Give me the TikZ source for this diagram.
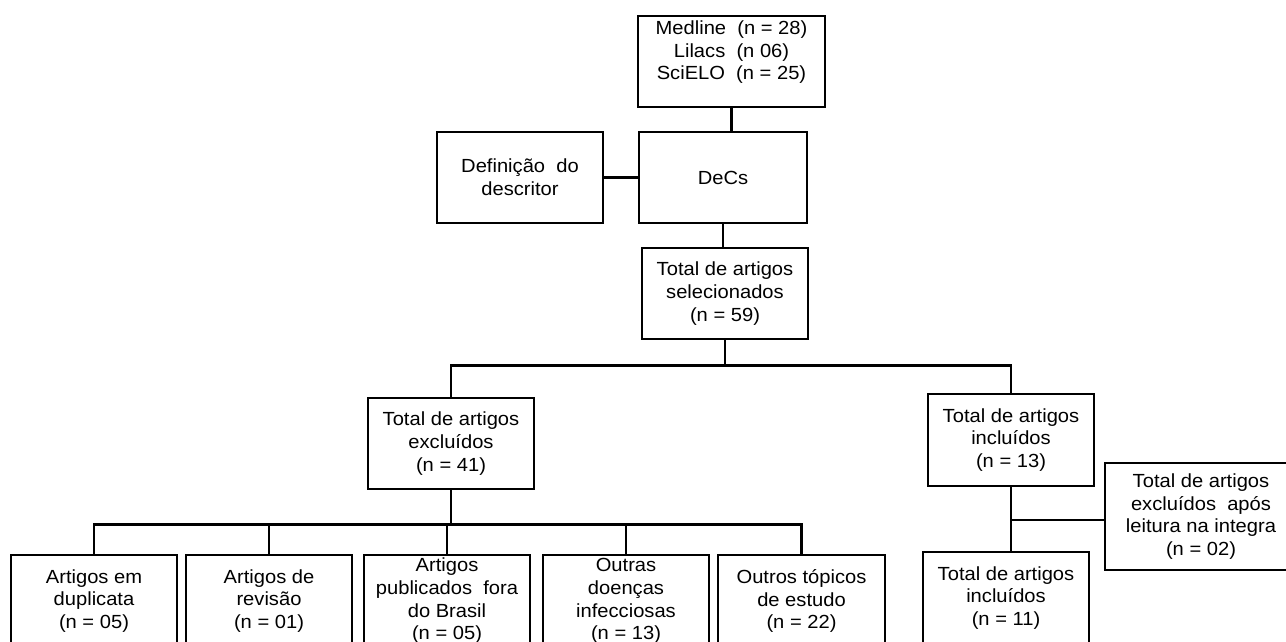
\documentclass[tikz,border=0pt]{standalone}
\usepackage{fontspec}
\setmainfont[FakeStretch=1.06]{Liberation Sans}
\begin{document}
\begin{tikzpicture}[x=1pt,y=-1pt,
  box/.style={draw=black, line width=2.8pt, inner sep=0pt, align=center,
    font=\fontsize{19}{22.7}\selectfont},
  conn/.style={draw=black, line width=2.8pt}]
\useasboundingbox (0,0) rectangle (1286,642);
\fill[white] (0,0) rectangle (1286,642);
\clip (0,0) rectangle (1286,642);
% top part
\node[box, minimum width=187pt, minimum height=91pt] (src) at (731.5,61.5)
  {Medline\ \ (n = 28)\\Lilacs\ \ (n 06)\\SciELO\ \ (n = 25)\\\mbox{}};
\node[box, minimum width=166pt, minimum height=91pt] (def) at (520,177.5)
  {Definição\ \ do\\descritor};
\node[box, minimum width=168pt, minimum height=91pt] (decs) at (723,177.5) {DeCs};
\node[box, minimum width=166pt, minimum height=91pt] (sel) at (725,293.5)
  {Total de artigos\\selecionados\\(n = 59)};
% middle
\node[box, minimum width=166pt, minimum height=91pt] (exc) at (451,443.5)
  {Total de artigos\\excluídos\\(n = 41)};
\node[box, minimum width=166pt, minimum height=92pt] (inc) at (1011,440)
  {Total de artigos\\incluídos\\(n = 13)};
% bottom row
\node[box, minimum width=166pt, minimum height=92pt] (b1) at (94,601)
  {Artigos em\\duplicata\\(n = 05)};
\node[box, minimum width=166pt, minimum height=92pt] (b2) at (269,601)
  {Artigos de\\revisão\\(n = 01)};
\node[box, minimum width=166pt, minimum height=92pt] (b3) at (447,601)
  {Artigos\\publicados\ \ fora\\do Brasil\\(n = 05)};
\node[box, minimum width=166pt, minimum height=92pt] (b4) at (626,601)
  {Outras\\doenças\\infecciosas\\(n = 13)};
\node[box, minimum width=167pt, minimum height=92pt] (b5) at (801.5,601)
  {Outros tópicos\\de estudo\\(n = 22)};
\node[box, minimum width=166pt, minimum height=92pt] (inc2) at (1006,598)
  {Total de artigos\\incluídos\\(n = 11)};
\node[box, minimum width=192pt, minimum height=107pt] (apos) at (1201,516.5)
  {Total de artigos\\excluídos\ \ após\\leitura na integra\\(n = 02)};
% connectors
\draw[conn] (src.south) -- (src.south |- decs.north);
\draw[conn] (def.east) -- (decs.west);
\draw[conn] (decs.south) -- (decs.south |- sel.north);
\path (sel.south) ++(0,25) coordinate (j1);
\draw[conn] (sel.south) -- (j1);
\draw[conn] (exc.north) |- (j1) -| (inc.north);
\path (exc.south) ++(0,34) coordinate (j2);
\draw[conn] (exc.south) -- (j2);
\draw[conn] (b1.north) |- (j2) -| (b5.north);
\draw[conn] (b2.north) -- (b2.north |- j2);
\draw[conn] (b3.north) -- (b3.north |- j2);
\draw[conn] (b4.north) -- (b4.north |- j2);
\draw[conn] (inc.south) -- (inc.south |- inc2.north);
\path (inc.south |- apos.west) ++(0,3.5) coordinate (j3);
\draw[conn] (j3) -- (j3 -| apos.west);
\end{tikzpicture}
\end{document}
